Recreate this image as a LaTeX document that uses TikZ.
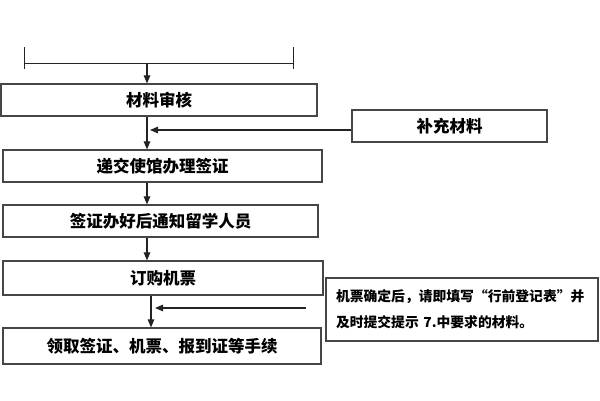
\documentclass[tikz,border=0pt]{standalone}
\usepackage{fontspec}
\usepackage{tikz}
\usetikzlibrary{positioning, arrows.meta}
\newfontfamily\cjk{Noto Sans CJK SC}
\definecolor{fcLine}{RGB}{35, 35, 35}
\definecolor{fcBox}{RGB}{70, 70, 70}
\tikzset{
    base/.style={
        font=\cjk\bfseries\fontsize{16.5}{19}\selectfont,
        text=black,
        align=center
    },
    stage/.style={
        base,
        rectangle,
        draw=fcBox,
        line width=1.2pt,
        inner sep=0pt,
        minimum height=32pt
    },
    remark/.style={
        stage,
        font=\cjk\bfseries\fontsize{13.8}{26}\selectfont,
        align=left,
        text width=252pt,
        inner xsep=10pt
    },
    flow/.style={
        -{Triangle[length=8pt, width=6.5pt]},
        line width=1.1pt,
        color=fcLine
    },
    bar/.style={
        line width=1pt,
        color=fcLine
    }
}

\begin{document}
\begin{tikzpicture}[x=1pt, y=-1pt]
    \useasboundingbox (0,0) rectangle (600,400);

    % Top bracket
    \draw[bar] (24,63) -- (293,63);
    \draw[bar] (24,47) -- (24,69);
    \draw[bar] (293,47) -- (293,69);
    \coordinate (spine) at (147,63);
    \coordinate (spineLow) at (151,300);

    % Main steps
    \node[stage, minimum width=316pt] (check) at (159,100) {材料审核};
    \node[stage, minimum width=319pt] (submit) at (162.5,166) {递交使馆办理签证};
    \node[stage, minimum width=315pt] (notify) at (160.5,221) {签证办好后通知留学人员};
    \node[stage, minimum width=320pt, minimum height=34pt] (ticket) at (163,278) {订购机票};
    \node[stage, minimum width=318pt, minimum height=36pt] (collect) at (162,346) {领取签证、机票、报到证等手续};

    % Side boxes
    \node[stage, minimum width=195pt] (extra) at (449.5,126) {补充材料};
    \node[remark, minimum width=272pt, minimum height=63pt] (note) at (462,309.5)
        {机票确定后，请即填写“行前登记表”并\\及时提交提示 7.中要求的材料。};

    % Arrows
    \draw[flow] (spine) -- (check.north -| spine);
    \draw[flow] (check.south -| spine) -- (submit.north -| spine);
    \draw[flow] (submit.south -| spine) -- (notify.north -| spine);
    \draw[flow] (notify.south -| spine) -- (ticket.north -| spine);
    \draw[flow] (ticket.south -| spineLow) -- (collect.north -| spineLow);

    \coordinate (extraTip) at (150,130);
    \draw[flow] (extra.west |- extraTip) -- (extraTip);
    \coordinate (noteTail) at (306,308);
    \coordinate (noteTip) at (155,308);
    \draw[flow] (noteTail) -- (noteTip);
\end{tikzpicture}
\end{document}
